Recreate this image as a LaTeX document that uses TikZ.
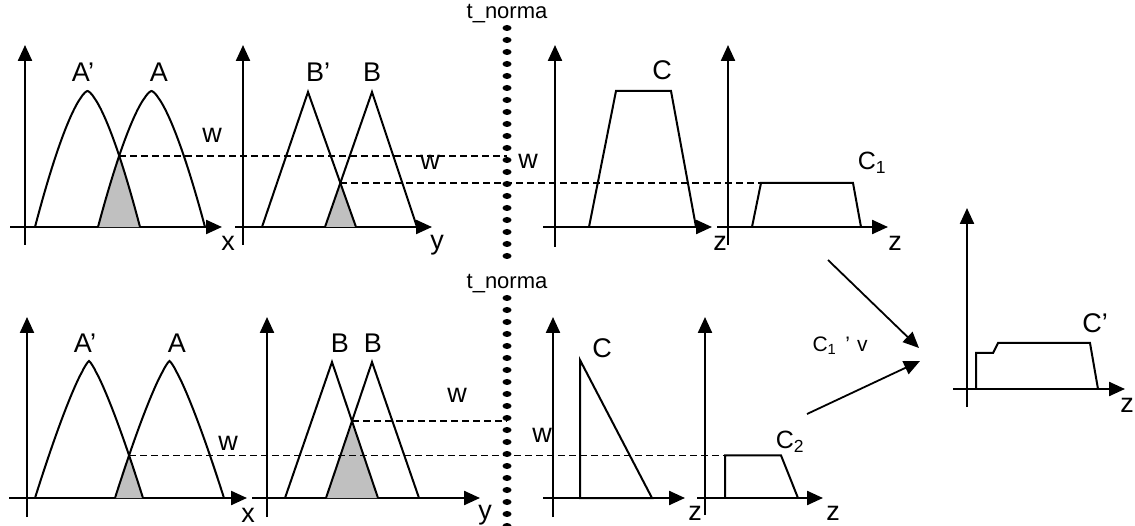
\documentclass[tikz,border=0pt]{standalone}
\usepackage{fontspec}
\setmainfont{Liberation Sans}
\usepackage{tikz}
\usetikzlibrary{arrows.meta,intersections}
\definecolor{shd}{HTML}{C0C0C0}
\tikzset{
  ax/.style={-{Triangle[length=16pt,width=14pt]},line width=2.3pt},
  arr/.style={-{Triangle[length=16pt,width=14pt]},line width=1.8pt},
  mf/.style={line width=2pt,line join=miter},
  wl/.style={dash pattern=on 7pt off 4pt,line width=1.4pt},
  lb/.style={font=\fontsize{27}{29}\selectfont,inner sep=0pt},
  sl/.style={font=\fontsize{25}{27}\selectfont,inner sep=0pt},
  tn/.style={font=\fontsize{22}{24}\selectfont,inner sep=0pt},
  vl/.style={font=\fontsize{21}{23}\selectfont,inner sep=0pt}
}
\newcommand{\bell}[5]{plot[domain=#1:#2,samples=81] (\x,{#3-(#3-#4)*(1-pow(abs(2*(\x-#1)/(#2-#1)-1)+0.0001,#5))})}

\begin{document}
\begin{tikzpicture}[x=1pt,y=-1pt]
\useasboundingbox (0,0) rectangle (1135,526);
\foreach \xv/\yt/\yl/\xs/\xe/\yh in {25/45/245/10/222/227,243/45/245/235/432/227,555/45/247/543/712/227,728/45/245/717/888/227,
  27/317/517/9/247/498,267/317/517/252/480/498,553/317/517/543/685/498,705/317/515/697/823/498,967/208/407/953/1125/389}{
 \draw[ax] (\xv,\yl)--(\xv,\yt);
 \draw[ax] (\xs,\yh)--(\xe,\yh);}
\coordinate (tn) at (507,0);
\foreach \k in {0,...,19}{
 \fill (507,{28+12*\k}) ellipse [x radius=4.5pt,y radius=3pt];
 \fill (507,{298+12*\k}) ellipse [x radius=4.5pt,y radius=3pt];}
\node[tn] (tn1) at (507,14) {t\_norma};
\node[tn] (tn2) at (507,284) {t\_norma};
\begin{scope}
 \clip \bell{98}{205}{227}{91}{1.47}--cycle;
 \fill[shd] \bell{35}{140}{227}{91}{1.47}--cycle;
\end{scope}
\begin{scope}
 \clip (325,227)--(372,92)--(417,227)--cycle;
 \fill[shd] (262,227)--(308,92)--(356,227)--cycle;
\end{scope}
\begin{scope}
 \clip \bell{115}{224}{498}{361}{1.25}--cycle;
 \fill[shd] \bell{35}{143}{498}{361}{1.25}--cycle;
\end{scope}
\begin{scope}
 \clip (326,498)--(372,362)--(419,498)--cycle;
 \fill[shd] (285,498)--(332,362)--(378,498)--cycle;
\end{scope}
\draw[mf,name path=ap1] \bell{35}{140}{227}{91}{1.47};
\draw[mf,name path=a1] \bell{98}{205}{227}{91}{1.47};
\draw[mf,name path=bp1] (262,227)--(308,92)--(356,227);
\draw[mf,name path=b1] (325,227)--(372,92)--(417,227);
\draw[mf,name path=ap2] \bell{35}{143}{498}{361}{1.25};
\draw[mf,name path=a2] \bell{115}{224}{498}{361}{1.25};
\draw[mf,name path=bp2] (285,498)--(332,362)--(378,498);
\draw[mf,name path=b2] (326,498)--(372,362)--(419,498);
\path[name intersections={of=ap1 and a1,by=wa1}];
\path[name intersections={of=bp1 and b1,by=wb1}];
\path[name intersections={of=ap2 and a2,by=wa2}];
\path[name intersections={of=bp2 and b2,by=wb2}];
\coordinate (c1l) at (761,227);
\coordinate (c1r) at (853,227);
\coordinate (c2l) at (725,498);
\coordinate (c2r) at (781,498);
\draw[mf] (589,227)--(616,91)--(671,91)--(696,227);
\draw[mf] (752,227)--(c1l |- wb1)--(c1r |- wb1)--(861,227);
\draw[mf] (580,498)--(580,360)--(652,498)--cycle;
\draw[mf] (c2l)--(c2l |- wa2)--(c2r |- wa2)--(798,498);
\draw[mf] (976,389)--(976,353)--(993,353)--(998,343)--(1090,343)--(1098,389);
\draw[wl] (wa1)--(wa1 -| tn);
\draw[wl] (wb1)--(c1l |- wb1);
\draw[wl] (wa2)--(c2l |- wa2);
\draw[wl] (wb2)--(wb2 -| tn);
\coordinate (o1) at (828,260);
\coordinate (o2) at (807,414);
\coordinate (i1) at (919,348);
\coordinate (i2) at (920,361);
\draw[arr] (o1)--(i1);
\draw[arr] (o2)--(i2);
\node[lb] (lap1) at (83,72) {A’};
\node[lb] (la1) at (159,72) {A};
\node[lb] (lbp1) at (318,72) {B’};
\node[lb] (lb1) at (372,72) {B};
\node[lb] (lc1) at (662,70) {C};
\node[sl] (lcc1) at (872,163) {C\textsubscript{1}};
\node[lb] (lw1) at (212,135) {w};
\node[lb] (lw2) at (430,162) {w};
\node[lb] (lw3) at (528,161) {w};
\node[lb] (lx1) at (228,243) {x};
\node[lb] (ly1) at (437,245) {y};
\node[lb] (lz1) at (720,243) {z};
\node[lb] (lz2) at (895,243) {z};
\node[lb] (lap2) at (85,343) {A’};
\node[lb] (la2) at (177,343) {A};
\node[lb] (lb2) at (340,343) {B};
\node[lb] (lb3) at (373,343) {B};
\node[lb] (lc2) at (602,348) {C};
\node[sl] (lcc2) at (790,442) {C\textsubscript{2}};
\node[lb] (lw4) at (228,443) {w};
\node[lb] (lw5) at (457,395) {w};
\node[lb] (lw6) at (542,435) {w};
\node[lb] (lx2) at (248,515) {x};
\node[lb] (ly2) at (485,515) {y};
\node[lb] (lz3) at (695,513) {z};
\node[lb] (lz4) at (833,513) {z};
\node[vl] (lv) at (840,346) {C\textsubscript{1}\hspace{9pt}’\hspace{7pt}v};
\node[lb] (lcp) at (1095,323) {C’};
\node[lb] (lz5) at (1127,405) {z};
\end{tikzpicture}
\end{document}
